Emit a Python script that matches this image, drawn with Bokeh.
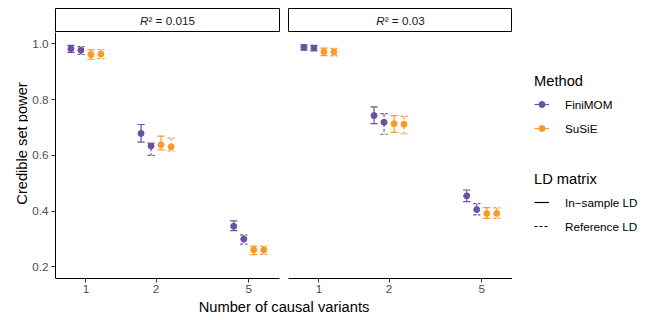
import math
import numpy as np
from bokeh.plotting import figure
from bokeh.models import Range1d, FixedTicker, Label, Legend, LegendItem, PrintfTickFormatter
from bokeh.layouts import row, column
from bokeh.embed import file_html
from bokeh.resources import INLINE

# ---------------- data ----------------
n_causal = [1, 2, 5]
x_tick_labels = ["1", "2", "5"]
y_ticks = [0.2, 0.4, 0.6, 0.8, 1.0]
y_tick_labels = ["0.2", "0.4", "0.6", "0.8", "1.0"]
r2_values = ["0.015", "0.03"]
methods = ["FiniMOM", "SuSiE"]
ld_matrices = ["In\u2212sample LD", "Reference LD"]

# R^2 = 0.015
finimom_in_015 = [0.983, 0.679, 0.346]
finimom_in_015_lo = [0.970, 0.648, 0.330]
finimom_in_015_hi = [0.995, 0.711, 0.365]
finimom_ref_015 = [0.977, 0.634, 0.300]
finimom_ref_015_lo = [0.962, 0.600, 0.282]
finimom_ref_015_hi = [0.990, 0.644, 0.315]
susie_in_015 = [0.962, 0.638, 0.261]
susie_in_015_lo = [0.945, 0.620, 0.244]
susie_in_015_hi = [0.979, 0.669, 0.275]
susie_ref_015 = [0.964, 0.631, 0.261]
susie_ref_015_lo = [0.947, 0.616, 0.245]
susie_ref_015_hi = [0.980, 0.662, 0.275]

# R^2 = 0.03
finimom_in_03 = [0.988, 0.743, 0.455]
finimom_in_03_lo = [0.978, 0.714, 0.434]
finimom_in_03_hi = [0.997, 0.774, 0.476]
finimom_ref_03 = [0.985, 0.719, 0.406]
finimom_ref_03_lo = [0.975, 0.676, 0.387]
finimom_ref_03_hi = [0.995, 0.750, 0.427]
susie_in_03 = [0.972, 0.714, 0.392]
susie_in_03_lo = [0.958, 0.683, 0.374]
susie_in_03_hi = [0.985, 0.743, 0.413]
susie_ref_03 = [0.971, 0.712, 0.392]
susie_ref_03_lo = [0.957, 0.677, 0.374]
susie_ref_03_hi = [0.984, 0.740, 0.412]

# ---------------- styles ----------------
FONT = "Liberation Sans"
COLORS = {"FiniMOM": "#6A51A3", "SuSiE": "#FB9A29"}
DASHES = {ld_matrices[0]: "solid", ld_matrices[1]: "3 2"}
DODGE = 0.043      # decades between dodged series
CAP = 0.0155       # half cap width in decades
X_LO_LOG, X_HI_LOG = -0.1307, 0.831
Y_LO, Y_HI = 0.1586, 1.041

YLAB_W = 28
LEFT1, RIGHT1 = 27, 4
LEFT2, RIGHT2 = 5, 0
FRAME_W = 224
STRIP_H, STRIP_TOP = 32, 8
PANEL_H = 268
BOTTOM = 22
TOTAL_W, TOTAL_H = 652, 320
LEG_W = TOTAL_W - YLAB_W - (LEFT1 + FRAME_W + RIGHT1) - (LEFT2 + FRAME_W + RIGHT2)
XLAB_H = TOTAL_H - STRIP_H - PANEL_H
TOP_H = STRIP_H + PANEL_H


def bare_figure(width, height, xr, yr, **borders):
    f = figure(width=width, height=height, x_range=Range1d(*xr), y_range=Range1d(*yr),
               output_backend="svg", toolbar_location=None,
               x_axis_location=None, y_axis_location=None, **borders)
    f.grid.visible = False
    f.outline_line_color = None
    f.border_fill_color = "white"
    f.background_fill_color = "white"
    return f


def style_axis(ax):
    ax.axis_line_color = "black"
    ax.axis_line_width = 1
    ax.major_tick_line_color = "#333333"
    ax.major_tick_out = 4
    ax.major_tick_in = 0
    ax.minor_tick_line_color = None
    ax.major_label_text_color = "#4D4D4D"
    ax.major_label_text_font = FONT
    ax.major_label_text_font_size = "11.7px"


def make_panel(series, left, right, show_y):
    p = figure(width=left + FRAME_W + right, height=PANEL_H, x_axis_type="log",
               x_range=Range1d(10 ** X_LO_LOG, 10 ** X_HI_LOG),
               y_range=Range1d(Y_LO, Y_HI), output_backend="svg",
               toolbar_location=None, min_border_left=left, min_border_right=right,
               min_border_top=0, min_border_bottom=BOTTOM,
               y_axis_location="left" if show_y else None)
    p.outline_line_color = None
    p.grid.visible = False
    p.background_fill_color = "white"
    p.border_fill_color = "white"
    for k, (method, ld, mean, lo, hi) in enumerate(series):
        off = (k - 1.5) * DODGE
        xs = [x * 10 ** off for x in n_causal]
        bx, by = [], []
        for x, l, h in zip(xs, lo, hi):
            xl, xr = x * 10 ** -CAP, x * 10 ** CAP
            bx += [[xl, xr], [x, x], [xl, xr]]
            by += [[h, h], [h, l], [l, l]]
        p.multi_line(bx, by, line_color=COLORS[method], line_width=1.2, line_dash=DASHES[ld])
        p.scatter(xs, mean, size=6, fill_color=COLORS[method], line_color=COLORS[method])
    xa = p.xaxis[0]
    style_axis(xa)
    xa.ticker = FixedTicker(ticks=n_causal, minor_ticks=[])
    xa.formatter = PrintfTickFormatter(format="%d")
    xa.major_label_overrides = dict(zip(n_causal, x_tick_labels))
    xa.major_label_standoff = 2
    if show_y:
        ya = p.yaxis[0]
        style_axis(ya)
        ya.ticker = FixedTicker(ticks=y_ticks, minor_ticks=[])
        ya.major_label_overrides = dict(zip(y_ticks, y_tick_labels))
        ya.major_label_standoff = 3
    return p


def make_strip(r2, left, right):
    s = bare_figure(left + FRAME_W + right, STRIP_H, (0, 1), (0, 1),
                    min_border_left=left, min_border_right=right,
                    min_border_top=STRIP_TOP, min_border_bottom=0)
    s.outline_line_color = "black"
    s.outline_line_width = 1
    fs = 11.7
    # Arial-like advance widths (em) to centre "R² = value"
    widths = {"R": 0.722, "\u00b2": 0.333, " ": 0.278, "=": 0.584, ".": 0.278}
    txt = "R\u00b2 = " + r2
    total = sum(widths.get(c, 0.556) for c in txt) * fs
    anchor = -total / 2 + widths["R"] * fs
    s.add_layout(Label(x=0.5, y=0.5, x_offset=anchor, text="R", text_align="right",
                       text_baseline="middle", text_font=FONT, text_font_size="11.7px",
                       text_font_style="italic", text_color="#1A1A1A"))
    s.add_layout(Label(x=0.5, y=0.5, x_offset=anchor, text="\u00b2 = " + r2,
                       text_align="left", text_baseline="middle", text_font=FONT,
                       text_font_size="11.7px", text_color="#1A1A1A"))
    return s


series_015 = [
    ("FiniMOM", ld_matrices[0], finimom_in_015, finimom_in_015_lo, finimom_in_015_hi),
    ("FiniMOM", ld_matrices[1], finimom_ref_015, finimom_ref_015_lo, finimom_ref_015_hi),
    ("SuSiE", ld_matrices[0], susie_in_015, susie_in_015_lo, susie_in_015_hi),
    ("SuSiE", ld_matrices[1], susie_ref_015, susie_ref_015_lo, susie_ref_015_hi),
]
series_03 = [
    ("FiniMOM", ld_matrices[0], finimom_in_03, finimom_in_03_lo, finimom_in_03_hi),
    ("FiniMOM", ld_matrices[1], finimom_ref_03, finimom_ref_03_lo, finimom_ref_03_hi),
    ("SuSiE", ld_matrices[0], susie_in_03, susie_in_03_lo, susie_in_03_hi),
    ("SuSiE", ld_matrices[1], susie_ref_03, susie_ref_03_lo, susie_ref_03_hi),
]

p1 = make_panel(series_015, LEFT1, RIGHT1, True)
p2 = make_panel(series_03, LEFT2, RIGHT2, False)
s1 = make_strip(r2_values[0], LEFT1, RIGHT1)
s2 = make_strip(r2_values[1], LEFT2, RIGHT2)

# y-axis title, centred on strips + panels like ggplot
yl = bare_figure(YLAB_W, TOP_H, (0, YLAB_W), (0, TOP_H), min_border_left=0,
                 min_border_right=0, min_border_top=0, min_border_bottom=0)
yl.add_layout(Label(x=21, y=TOP_H - (STRIP_TOP + STRIP_H + PANEL_H - BOTTOM) / 2,
                    text="Credible set power", angle=math.pi / 2, text_align="center",
                    text_baseline="middle", text_font=FONT, text_font_size="14.7px",
                    text_color="black"))

NAN = np.array([np.nan])


def legend_fig(height, top, items_spec, title):
    f = bare_figure(LEG_W, height, (0, 1), (0, 1), min_border_left=22,
                    min_border_right=0, min_border_top=top, min_border_bottom=0)
    items = []
    for label, color, dash, point in items_spec:
        rs = [f.line(NAN, NAN, line_color=color, line_width=1.2, line_dash=dash)]
        if point:
            rs.append(f.scatter(NAN, NAN, size=5, fill_color=color, line_color=color))
        items.append(LegendItem(label=label, renderers=rs))
    leg = Legend(items=items, title=title, location="top_left", margin=0, padding=0,
                 border_line_color=None, background_fill_alpha=0, glyph_width=15,
                 glyph_height=20, label_height=20, spacing=4, label_standoff=16,
                 title_standoff=5, label_text_font=FONT, label_text_font_size="11.7px",
                 label_text_color="black", title_text_font=FONT,
                 title_text_font_size="14.7px", title_text_font_style="normal",
                 title_text_color="black")
    f.add_layout(leg, "center")
    return f


LEG_A_H = 150
lfA = legend_fig(LEG_A_H, 73, [(m, COLORS[m], "solid", True) for m in methods], "Method")
lfB = legend_fig(TOP_H - LEG_A_H, 21,
                 [(ld, "black", DASHES[ld], False) for ld in ld_matrices], "LD matrix")

xl = bare_figure(TOTAL_W, XLAB_H, (0, TOTAL_W), (0, XLAB_H), min_border_left=0,
                 min_border_right=0, min_border_top=0, min_border_bottom=0)
center = YLAB_W + (LEFT1 + (LEFT1 + FRAME_W + RIGHT1 + LEFT2 + FRAME_W)) / 2
xl.add_layout(Label(x=center, y=XLAB_H / 2, y_offset=4, text="Number of causal variants",
                    text_align="center", text_baseline="middle", text_font=FONT,
                    text_font_size="14.7px", text_color="black"))

layout = column(row(yl, column(s1, p1), column(s2, p2), column(lfA, lfB)), xl)

open("out.html", "w").write(file_html(layout, INLINE))
